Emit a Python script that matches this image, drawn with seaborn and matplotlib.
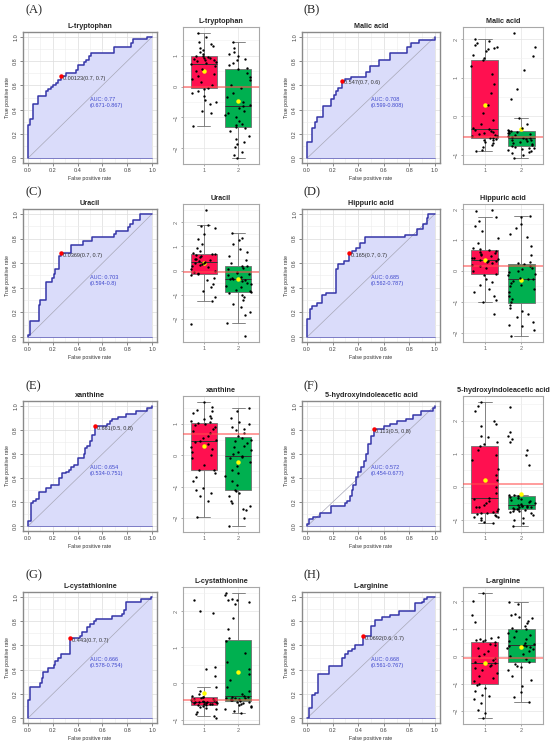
import numpy as np
import pandas as pd
import matplotlib
matplotlib.use('Agg')
import matplotlib.pyplot as plt
from matplotlib.ticker import MultipleLocator
import seaborn as sns

# ---- data ----
tags = ['(A)', '(B)', '(C)', '(D)', '(E)', '(F)', '(G)', '(H)']
names = ['L-tryptophan', 'Malic acid', 'Uracil', 'Hippuric acid',
         'xanthine', '5-hydroxyindoleacetic acid', 'L-cystathionine', 'L-arginine']
auc = ['0.77', '0.708', '0.703', '0.685', '0.654', '0.572', '0.666', '0.668']
auc_ci = ['0.671-0.867', '0.599-0.808', '0.594-0.8', '0.562-0.787',
          '0.534-0.751', '0.454-0.677', '0.578-0.754', '0.561-0.767']
thresholds = ['0.00123', '0.547', '0.0369', '0.165', '0.661', '0.113', '0.443', '0.0692']
best_fpr = [0.27, 0.27, 0.27, 0.33, 0.54, 0.52, 0.336, 0.44]
best_tpr = [0.68, 0.64, 0.68, 0.68, 0.83, 0.81, 0.66, 0.68]
cut_lines = [0.0, -0.54, -0.06, 0.16, 0.67, 0.1, -0.45, -0.06]

fpr_a = [0, 0, 0.016, 0.04, 0.08, 0.145, 0.165, 0.186, 0.205, 0.227, 0.246, 0.27, 0.31, 0.39, 0.40, 0.45, 0.47, 0.49, 0.51, 0.69, 0.83, 0.85, 0.96, 1.0]
tpr_a = [0, 0.27, 0.32, 0.45, 0.51, 0.55, 0.57, 0.59, 0.60, 0.62, 0.645, 0.68, 0.705, 0.73, 0.77, 0.79, 0.81, 0.84, 0.87, 0.92, 0.95, 0.98, 1.0, 1.0]
fpr_b = [0, 0, 0.04, 0.06, 0.08, 0.125, 0.185, 0.21, 0.225, 0.245, 0.27, 0.30, 0.345, 0.46, 0.49, 0.56, 0.645, 0.78, 0.81, 0.875, 1.0]
tpr_b = [0, 0.13, 0.25, 0.30, 0.34, 0.43, 0.49, 0.52, 0.55, 0.58, 0.64, 0.65, 0.67, 0.71, 0.76, 0.81, 0.87, 0.92, 0.95, 0.97, 1.0]
fpr_c = [0, 0, 0.02, 0.087, 0.10, 0.146, 0.19, 0.209, 0.22, 0.25, 0.27, 0.35, 0.445, 0.52, 0.69, 0.71, 0.805, 0.82, 0.845, 0.90, 1.0]
tpr_c = [0, 0.02, 0.13, 0.26, 0.30, 0.45, 0.48, 0.51, 0.55, 0.66, 0.68, 0.75, 0.78, 0.81, 0.84, 0.86, 0.89, 0.92, 0.95, 1.0, 1.0]
fpr_d = [0, 0, 0.02, 0.04, 0.08, 0.12, 0.145, 0.226, 0.245, 0.286, 0.33, 0.354, 0.38, 0.417, 0.455, 0.77, 0.858, 0.907, 0.935, 0.95, 1.0]
tpr_d = [0, 0.15, 0.23, 0.25, 0.28, 0.34, 0.36, 0.55, 0.59, 0.62, 0.68, 0.70, 0.72, 0.76, 0.81, 0.83, 0.88, 0.92, 0.97, 1.0, 1.0]
fpr_e = [0, 0, 0.022, 0.044, 0.063, 0.085, 0.146, 0.187, 0.25, 0.275, 0.31, 0.333, 0.35, 0.37, 0.40, 0.455, 0.463, 0.477, 0.50, 0.52, 0.54, 0.64, 0.66, 0.68, 0.725, 0.79, 0.87, 0.96, 1.0]
tpr_e = [0, 0.04, 0.19, 0.21, 0.23, 0.28, 0.32, 0.34, 0.40, 0.44, 0.45, 0.47, 0.49, 0.51, 0.57, 0.60, 0.65, 0.67, 0.71, 0.76, 0.83, 0.85, 0.87, 0.89, 0.91, 0.93, 0.96, 0.98, 1.0]
fpr_f = [0, 0, 0.015, 0.047, 0.10, 0.19, 0.295, 0.316, 0.335, 0.35, 0.36, 0.38, 0.395, 0.42, 0.445, 0.46, 0.48, 0.50, 0.52, 0.60, 0.65, 0.70, 0.775, 0.83, 0.893, 0.985, 1.0]
tpr_f = [0, 0.02, 0.06, 0.08, 0.11, 0.17, 0.19, 0.21, 0.25, 0.30, 0.34, 0.41, 0.45, 0.49, 0.54, 0.60, 0.68, 0.75, 0.81, 0.83, 0.85, 0.87, 0.89, 0.92, 0.96, 0.98, 1.0]
fpr_g = [0, 0, 0.016, 0.10, 0.11, 0.125, 0.16, 0.206, 0.22, 0.24, 0.27, 0.336, 0.417, 0.436, 0.477, 0.504, 0.53, 0.545, 0.68, 0.76, 0.775, 0.794, 0.91, 0.99, 1.0]
tpr_g = [0, 0.15, 0.26, 0.29, 0.33, 0.38, 0.41, 0.44, 0.47, 0.50, 0.53, 0.66, 0.68, 0.71, 0.75, 0.78, 0.80, 0.82, 0.84, 0.86, 0.89, 0.96, 0.98, 1.0, 1.0]
fpr_h = [0, 0.016, 0.036, 0.058, 0.082, 0.172, 0.274, 0.296, 0.323, 0.35, 0.378, 0.44, 0.50, 0.53, 0.584, 0.647, 0.72, 0.845, 0.90, 0.918, 0.94, 1.0]
tpr_h = [0, 0.08, 0.19, 0.21, 0.36, 0.43, 0.50, 0.53, 0.55, 0.57, 0.60, 0.68, 0.76, 0.81, 0.83, 0.85, 0.88, 0.95, 0.96, 0.98, 1.0, 1.0]

# box plot values, group 1 and group 2
box_a1 = [-1.27, -0.85, -0.78, -0.55, -0.5, -0.42, -0.3, -0.22, -0.15, -0.08,
          -0.05, 0.05, 0.15, 0.25, 0.33, 0.42, 0.5, 0.58, 0.65, 0.72,
          0.76, 0.79, 0.82, 0.85, 0.87, 0.89, 0.91, 0.93, 0.95, 0.98,
          1.0, 1.05, 1.1, 1.18, 1.25, 1.3, 1.38, 1.45, 1.6, 1.72]
box_a2 = [-2.3, -2.2, -2.1, -1.95, -1.85, -1.8, -1.7, -1.6, -1.45, -1.35,
          -1.3, -1.25, -1.2, -1.1, -1.0, -0.92, -0.85, -0.8, -0.7, -0.64,
          -0.6, -0.5, -0.35, -0.2, -0.05, 0.05, 0.2, 0.3, 0.45, 0.57,
          0.6, 0.68, 0.75, 0.85, 0.9, 1.0, 1.05, 1.1, 1.25, 1.45]
box_b1 = [-0.9, -0.88, -0.8, -0.75, -0.7, -0.65, -0.62, -0.6, -0.58, -0.56,
          -0.55, -0.52, -0.5, -0.47, -0.45, -0.42, -0.4, -0.37, -0.35, -0.33,
          -0.31, -0.2, -0.1, 0.1, 0.3, 0.6, 0.85, 1.1, 1.3, 1.45,
          1.5, 1.6, 1.7, 1.75, 1.78, 1.8, 1.85, 1.9, 1.95, 2.0]
box_b2 = [-1.07, -1.0, -0.95, -0.92, -0.9, -0.88, -0.85, -0.83, -0.81, -0.79,
          -0.77, -0.74, -0.71, -0.68, -0.66, -0.64, -0.62, -0.6, -0.58, -0.57,
          -0.55, -0.53, -0.5, -0.48, -0.46, -0.44, -0.42, -0.4, -0.38, -0.37,
          -0.35, -0.3, -0.2, -0.03, 0.45, 0.7, 1.2, 1.55, 1.8, 2.15]
box_c1 = [-2.2, -1.24, -1.1, -0.85, -0.7, -0.55, -0.4, -0.3, -0.2, -0.15,
          -0.12, -0.05, 0.0, 0.08, 0.15, 0.2, 0.25, 0.28, 0.31, 0.33,
          0.35, 0.38, 0.42, 0.46, 0.5, 0.55, 0.6, 0.64, 0.67, 0.7,
          0.72, 0.8, 0.95, 1.1, 1.3, 1.5, 1.75, 1.85, 1.9, 2.5]
box_c2 = [-2.7, -2.18, -1.85, -1.7, -1.5, -1.4, -1.2, -1.1, -1.0, -0.93,
          -0.9, -0.85, -0.8, -0.7, -0.65, -0.55, -0.5, -0.45, -0.38, -0.35,
          -0.33, -0.3, -0.25, -0.2, -0.15, -0.1, -0.05, 0.05, 0.1, 0.17,
          0.2, 0.3, 0.45, 0.6, 0.75, 0.9, 1.1, 1.25, 1.35, 1.54]
box_d1 = [-1.4, -1.0, -0.95, -0.8, -0.7, -0.6, -0.45, -0.35, -0.25, -0.14,
          -0.1, 0.0, 0.08, 0.15, 0.2, 0.25, 0.28, 0.31, 0.33, 0.35,
          0.37, 0.4, 0.43, 0.47, 0.5, 0.55, 0.58, 0.62, 0.65, 0.68,
          0.7, 0.75, 0.9, 1.05, 1.3, 1.45, 1.6, 1.75, 1.95, 1.96]
box_d2 = [-2.1, -1.9, -1.8, -1.75, -1.65, -1.5, -1.4, -1.3, -1.2, -1.12,
          -1.0, -0.9, -0.8, -0.7, -0.6, -0.5, -0.45, -0.38, -0.32, -0.28,
          -0.26, -0.22, -0.15, -0.1, -0.05, 0.0, 0.05, 0.1, 0.15, 0.22,
          0.25, 0.3, 0.5, 0.8, 1.1, 1.2, 1.4, 1.5, 1.75, 1.78]
box_e1 = [-1.95, -1.45, -1.3, -1.2, -1.1, -1.05, -0.8, -0.7, -0.55, -0.48,
          -0.45, -0.3, -0.1, 0.0, 0.1, 0.2, 0.28, 0.35, 0.42, 0.46,
          0.48, 0.55, 0.62, 0.7, 0.78, 0.85, 0.9, 0.95, 1.0, 1.04,
          1.05, 1.1, 1.15, 1.2, 1.25, 1.35, 1.4, 1.45, 1.55, 1.69]
box_e2 = [-2.24, -2.0, -1.75, -1.7, -1.6, -1.5, -1.45, -1.3, -1.2, -1.13,
          -1.1, -0.95, -0.8, -0.65, -0.55, -0.45, -0.35, -0.2, -0.1, -0.05,
          -0.01, 0.05, 0.1, 0.18, 0.25, 0.3, 0.38, 0.45, 0.5, 0.56,
          0.6, 0.7, 0.8, 0.85, 0.9, 1.0, 1.05, 1.2, 1.4, 1.5]
box_f1 = [-1.1, -1.05, -1.0, -0.95, -0.92, -0.9, -0.88, -0.85, -0.82, -0.8,
          -0.78, -0.75, -0.72, -0.68, -0.62, -0.6, -0.55, -0.5, -0.42, -0.37,
          -0.33, -0.2, 0.0, 0.2, 0.35, 0.55, 0.8, 0.95, 1.1, 1.23,
          1.3, 1.35, 1.5, 1.55, 1.85, 1.9, 2.0, 2.3, 2.45, 2.56]
box_f2 = [-1.18, -1.1, -1.0, -0.95, -0.85, -0.8, -0.77, -0.74, -0.72, -0.69,
          -0.68, -0.67, -0.66, -0.64, -0.62, -0.61, -0.6, -0.59, -0.58, -0.57,
          -0.55, -0.53, -0.5, -0.47, -0.44, -0.4, -0.36, -0.33, -0.3, -0.28,
          -0.26, -0.25, 0.65, 0.95, 1.1, 1.35, 1.45, 1.55, 1.65, 2.4]
box_g1 = [-0.95, -0.9, -0.85, -0.78, -0.72, -0.68, -0.65, -0.63, -0.61, -0.59,
          -0.58, -0.57, -0.56, -0.55, -0.54, -0.53, -0.52, -0.51, -0.51, -0.5,
          -0.5, -0.49, -0.48, -0.46, -0.45, -0.43, -0.42, -0.4, -0.38, -0.37,
          -0.35, -0.3, -0.2, -0.11, 0.2, 0.4, 0.45, 1.95, 2.0, 2.3]
box_g2 = [-0.82, -0.75, -0.7, -0.65, -0.62, -0.6, -0.57, -0.55, -0.52, -0.5,
          -0.49, -0.47, -0.45, -0.44, -0.42, -0.41, -0.4, -0.39, -0.38, -0.37,
          -0.35, -0.3, -0.2, -0.1, 0.1, 0.25, 0.4, 0.6, 0.85, 1.18,
          1.25, 1.5, 1.8, 2.2, 2.25, 2.3, 2.3, 2.35, 2.45, 2.5]
box_h1 = [-2.24, -2.05, -1.95, -1.7, -1.55, -1.45, -1.4, -1.25, -1.15, -1.05,
          -1.0, -0.9, -0.8, -0.7, -0.6, -0.5, -0.42, -0.35, -0.3, -0.26,
          -0.22, -0.15, -0.05, 0.0, 0.1, 0.2, 0.3, 0.4, 0.45, 0.52,
          0.55, 0.58, 0.6, 0.62, 0.65, 0.7, 1.25, 1.5, 2.0, 2.3]
box_h2 = [-1.66, -1.5, -1.3, -1.1, -0.85, -0.7, -0.5, -0.4, -0.35, -0.29,
          -0.2, -0.1, 0.0, 0.1, 0.18, 0.25, 0.3, 0.33, 0.36, 0.39,
          0.41, 0.45, 0.5, 0.55, 0.62, 0.7, 0.78, 0.85, 0.92, 1.0,
          1.02, 1.1, 1.2, 1.3, 1.38, 1.45, 1.5, 1.55, 1.9, 1.97]

roc_fpr = [fpr_a, fpr_b, fpr_c, fpr_d, fpr_e, fpr_f, fpr_g, fpr_h]
roc_tpr = [tpr_a, tpr_b, tpr_c, tpr_d, tpr_e, tpr_f, tpr_g, tpr_h]
group1 = [box_a1, box_b1, box_c1, box_d1, box_e1, box_f1, box_g1, box_h1]
group2 = [box_a2, box_b2, box_c2, box_d2, box_e2, box_f2, box_g2, box_h2]

# ---- style ----
sns.set_theme(style='white')
plt.rcParams['font.family'] = ['Liberation Sans', 'DejaVu Sans']
np.random.seed(7)

W, H = 550, 750
fig = plt.figure(figsize=(5.5, 7.5), dpi=100)

roc_left = [23, 302]
roc_width = [134, 138]
box_left = [183, 463]
box_width = [76, 80]
roc_top = [32, 209, 401, 592]
roc_bot = [163, 342, 531, 723]
box_top = [27, 204, 396, 587]
box_bot = [164, 342, 532, 724]
tag_x = [25, 304]
tag_y = [10, 192, 386, 575]


def px_axes(l, t, w, b):
    return fig.add_axes([l / W, 1 - b / H, w / W, (b - t) / H])


def draw_roc(ax, fpr, tpr, i):
    ax.set_xlim(-0.04, 1.04)
    ax.set_ylim(-0.04, 1.04)
    ax.xaxis.set_major_locator(MultipleLocator(0.2))
    ax.yaxis.set_major_locator(MultipleLocator(0.2))
    ax.xaxis.set_minor_locator(MultipleLocator(0.1))
    ax.yaxis.set_minor_locator(MultipleLocator(0.1))
    ax.grid(True, which='major', color='#dcdcdc', lw=0.5)
    ax.grid(True, which='minor', color='#ececec', lw=0.4)
    ax.set_axisbelow(True)
    ax.fill_between(fpr, tpr, 0, step='post', color='#dadcfa', lw=0, zorder=1)
    ax.plot([0, 1], [0, 1], color='#a8a8b8', lw=0.5, zorder=2)
    ax.plot(fpr, tpr, drawstyle='steps-post', color='#3535a8', lw=1.1, zorder=3)
    ax.plot([0, 1], [0, 0], color='#6a6ac0', lw=0.6, zorder=3)
    ax.plot(best_fpr[i], best_tpr[i], 'o', color='red', ms=2.2, zorder=4)
    ax.text(best_fpr[i] + 0.015, best_tpr[i] - 0.02,
            '%s(%.1f, %.1f)' % (thresholds[i], 1 - best_fpr[i], best_tpr[i]),
            fontsize=4, color='#333333', va='center', ha='left', zorder=5)
    ax.text(0.5, 0.46, 'AUC: %s\n(%s)' % (auc[i], auc_ci[i]), fontsize=4,
            color='#3f48cc', va='center', ha='left', linespacing=1.2, zorder=5)
    ax.set_title(names[i], fontsize=5.2, fontweight='bold', pad=3)
    ax.set_xlabel('False positive rate', fontsize=3.8, labelpad=2, color='#333333')
    ax.set_ylabel('True positive rate', fontsize=3.8, labelpad=2, color='#333333')
    ax.tick_params(axis='both', labelsize=4, length=2, width=0.5, pad=1.5,
                   color='#555555', labelcolor='#444444', bottom=True, left=True)
    ax.tick_params(which='minor', length=0)
    plt.setp(ax.get_yticklabels(), rotation=90, va='center')
    for s in ax.spines.values():
        s.set_color('#8a8a8a')
        s.set_linewidth(1.0)


def draw_box(ax, g1, g2, i):
    df = pd.DataFrame({'group': ['1'] * len(g1) + ['2'] * len(g2),
                       'value': g1 + g2})
    sns.boxplot(data=df, x='group', y='value', hue='group',
                palette=['#ff1050', '#00b050'], legend=False, width=0.75,
                showfliers=False, showmeans=True, linecolor='#707070',
                linewidth=0.6, saturation=1,
                medianprops=dict(color='#303030', linewidth=0.7),
                meanprops=dict(marker='o', markerfacecolor='#ffff00',
                               markeredgecolor='#ffff00', markersize=2.2),
                ax=ax, zorder=2)
    sns.stripplot(data=df, x='group', y='value', color='black', size=1.7,
                  jitter=0.38, ax=ax, zorder=3)
    ax.axhline(cut_lines[i], color='#ff4d4d', lw=1.1, alpha=0.7, zorder=4)
    ax.set_xlim(-0.6, 1.6)
    ax.yaxis.set_major_locator(MultipleLocator(1))
    ax.yaxis.set_minor_locator(MultipleLocator(0.5))
    ax.grid(True, which='major', color='#e4e4e4', lw=0.5)
    ax.grid(True, which='minor', color='#f0f0f0', lw=0.4)
    ax.set_axisbelow(True)
    ax.set_title(names[i], fontsize=5.2, fontweight='bold', pad=3)
    ax.set_xlabel('')
    ax.set_ylabel('')
    ax.tick_params(axis='both', labelsize=4, length=1.5, width=0.5, pad=1.5,
                   color='#888888', labelcolor='#666666', bottom=True, left=True)
    ax.tick_params(which='minor', length=0)
    plt.setp(ax.get_yticklabels(), rotation=90, va='center')
    for s in ax.spines.values():
        s.set_color('#a8a8a8')
        s.set_linewidth(0.8)


for i in range(8):
    row, col = i // 2, i % 2
    ax1 = px_axes(roc_left[col], roc_top[row], roc_width[col], roc_bot[row])
    draw_roc(ax1, roc_fpr[i], roc_tpr[i], i)
    ax2 = px_axes(box_left[col], box_top[row], box_width[col], box_bot[row])
    draw_box(ax2, group1[i], group2[i], i)
    fig.text(tag_x[col] / W, 1 - tag_y[row] / H, tags[i], fontsize=9,
             family=['Liberation Serif', 'DejaVu Serif'], ha='left', va='center')

fig.savefig('out.png', dpi=100)
